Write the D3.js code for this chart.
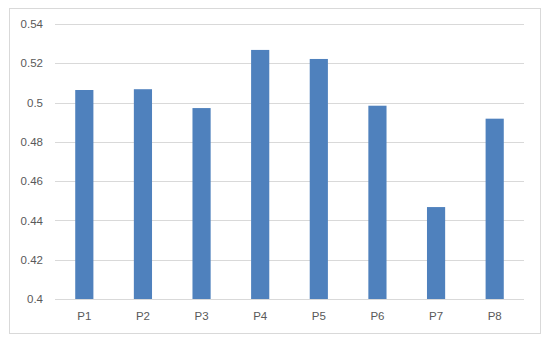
<!DOCTYPE html>
<html>
<head>
<meta charset="utf-8">
<script src="https://cdn.jsdelivr.net/npm/d3@7"></script>
<style>
  body { margin: 0; background: #fff; }
  text { font-family: "Liberation Sans", Arial, sans-serif; }
</style>
</head>
<body>
<div id="chart"></div>
<script>
// Data
var categories = ["P1", "P2", "P3", "P4", "P5", "P6", "P7", "P8"];
var values = [0.5064, 0.5068, 0.4972, 0.5268, 0.5222, 0.4984, 0.4468, 0.4918];
var yTicks = [0.4, 0.42, 0.44, 0.46, 0.48, 0.5, 0.52, 0.54];

var W = 550, H = 343;
var plot = { left: 55, right: 524, top: 24, bottom: 299 };

var svg = d3.select("#chart").append("svg")
  .attr("width", W).attr("height", H);

// outer frame
svg.append("rect")
  .attr("x", 9.5).attr("y", 8.5)
  .attr("width", 531).attr("height", 325)
  .attr("fill", "#fff")
  .attr("stroke", "#d9d9d9");

var x = d3.scaleBand().domain(categories)
  .range([plot.left, plot.right])
  .paddingInner(0.69).paddingOuter(0.345);

var y = d3.scaleLinear().domain([0.4, 0.54])
  .range([plot.bottom, plot.top]);

// gridlines
svg.append("g").selectAll("line")
  .data(yTicks)
  .enter().append("line")
  .attr("x1", plot.left).attr("x2", plot.right)
  .attr("y1", function(d){ return Math.round(y(d)) + 0.5; })
  .attr("y2", function(d){ return Math.round(y(d)) + 0.5; })
  .attr("stroke", "#d9d9d9")
  .attr("stroke-width", 1);

// y labels
svg.append("g").selectAll("text")
  .data(yTicks)
  .enter().append("text")
  .attr("x", 43)
  .attr("y", function(d){ return y(d); })
  .attr("dy", "0.36em")
  .attr("text-anchor", "end")
  .attr("font-size", "11.5px")
  .attr("fill", "#595959")
  .text(function(d){ return d3.format("")(+d.toFixed(2)); });

// bars
svg.append("g").selectAll("rect")
  .data(values)
  .enter().append("rect")
  .attr("x", function(d, i){ return x(categories[i]); })
  .attr("width", x.bandwidth())
  .attr("y", function(d){ return y(d); })
  .attr("height", function(d){ return y(0.4) - y(d); })
  .attr("fill", "#4f81bd");

// x labels
svg.append("g").selectAll("text")
  .data(categories)
  .enter().append("text")
  .attr("x", function(d){ return x(d) + x.bandwidth() / 2; })
  .attr("y", 320)
  .attr("text-anchor", "middle")
  .attr("font-size", "11.5px")
  .attr("fill", "#595959")
  .text(function(d){ return d; });
</script>
</body>
</html>
